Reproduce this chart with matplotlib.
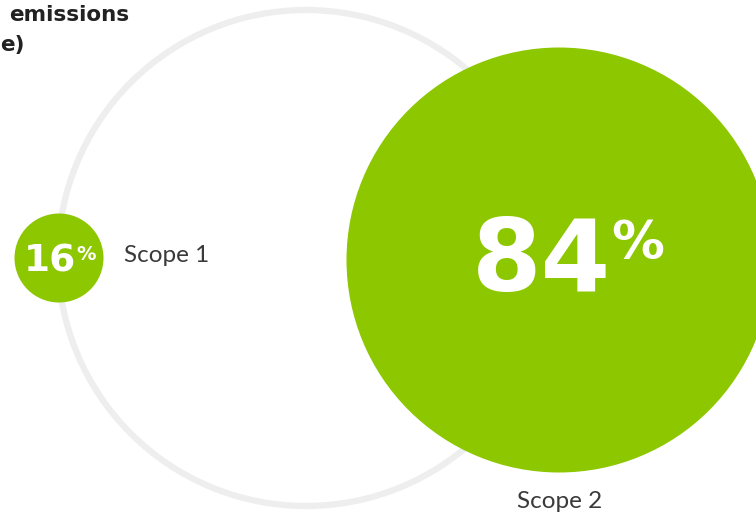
import matplotlib.pyplot as plt
from matplotlib.patches import Circle

# Data
labels = ["Scope 1", "Scope 2"]
shares = [16, 84]
title_lines = ["emissions", "e)"]  # only the visible part of the cropped title

GREEN = "#8DC700"
RING = "#EEEEEE"

fig = plt.figure(figsize=(7.56, 5.15), dpi=100)
ax = fig.add_axes([0, 0, 1, 1])
ax.set_xlim(0, 756)
ax.set_ylim(515, 0)
ax.set_aspect("equal")
ax.axis("off")

# big background ring
ax.add_patch(Circle((306, 258), 248, facecolor="none", edgecolor=RING, lw=4.5))

# bubbles
ax.add_patch(Circle((59, 258), 44.5, facecolor=GREEN, edgecolor="none"))
ax.add_patch(Circle((559, 260), 212.5, facecolor=GREEN, edgecolor="none"))

# Scope 1 bubble text
ax.text(76, 262, f"{shares[0]}", color="white", fontsize=27, fontweight="bold",
        ha="right", va="center", family="DejaVu Sans")
ax.text(76, 254, "%", color="white", fontsize=14, fontweight="bold",
        ha="left", va="center", family="DejaVu Sans")
ax.text(124, 255, labels[0], color="#3a3a3a", fontsize=17.5,
        ha="left", va="center", family="Lato")

# Scope 2 bubble text
ax.text(611, 263, f"{shares[1]}", color="white", fontsize=72, fontweight="bold",
        ha="right", va="center", family="DejaVu Sans")
ax.text(611, 244, "%", color="white", fontsize=38, fontweight="bold",
        ha="left", va="center", family="DejaVu Sans")
ax.text(560, 502, labels[1], color="#3a3a3a", fontsize=17.5,
        ha="center", va="center", family="Lato")

# top-left title fragment
ax.text(9, 15, title_lines[0], color="#222222", fontsize=15.5, fontweight="bold",
        ha="left", va="center", family="DejaVu Sans")
ax.text(0, 45, title_lines[1], color="#222222", fontsize=15.5, fontweight="bold",
        ha="left", va="center", family="DejaVu Sans")

fig.savefig("out.png", dpi=100)
